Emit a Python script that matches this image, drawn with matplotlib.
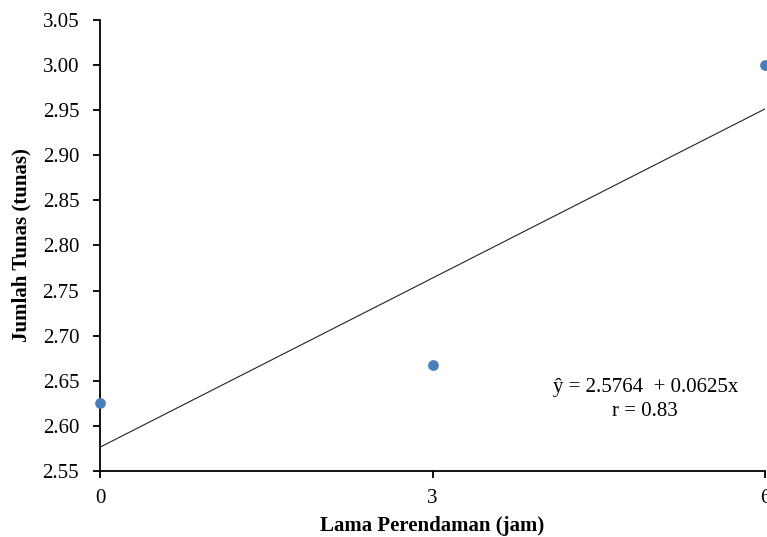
import matplotlib
matplotlib.use("Agg")
import matplotlib.pyplot as plt
import numpy as np

plt.rcParams['font.family'] = ['Liberation Serif', 'DejaVu Serif']

x_vals = [0, 3, 6]
y_vals = [2.625, 2.667, 3.0]
intercept = 2.5764
slope = 0.0625
x_ticks = [0, 3, 6]
y_ticks = [2.55, 2.60, 2.65, 2.70, 2.75, 2.80, 2.85, 2.90, 2.95, 3.00, 3.05]

fig = plt.figure(figsize=(7.67, 5.37), dpi=100)
ax = fig.add_axes([0.1304, 0.1229, 0.867, 0.8399])

xl = np.array([0, 6])
ax.plot(xl, intercept + slope * xl, color='#222222', lw=0.8, zorder=2)
ax.scatter(x_vals, y_vals, s=45, color='#4a7ebb', zorder=3, clip_on=False)

ax.set_xlim(0, 6)
ax.set_ylim(2.55, 3.05)
ax.set_xticks(x_ticks)
ax.set_yticks(y_ticks)
ax.set_yticklabels([f"{v:.2f}" for v in y_ticks])
ax.spines['top'].set_visible(False)
ax.spines['right'].set_visible(False)
for s in ['left', 'bottom']:
    ax.spines[s].set_linewidth(1.3)
ax.tick_params(axis='both', labelsize=15, width=1.3, length=5, direction='out')
ax.tick_params(axis='y', pad=10)
ax.tick_params(axis='x', pad=8)

ax.set_xlabel('Lama Perendaman (jam)', fontsize=15, fontweight='bold', labelpad=6)
ax.set_ylabel('Jumlah Tunas (tunas)', fontsize=15, fontweight='bold', labelpad=8)

ax.text(4.92, 2.643, 'ŷ = 2.5764  + 0.0625x', fontsize=15, ha='center', va='center')
ax.text(4.92, 2.6165, 'r = 0.83', fontsize=15, ha='center', va='center')

fig.savefig('out.png', dpi=100)
